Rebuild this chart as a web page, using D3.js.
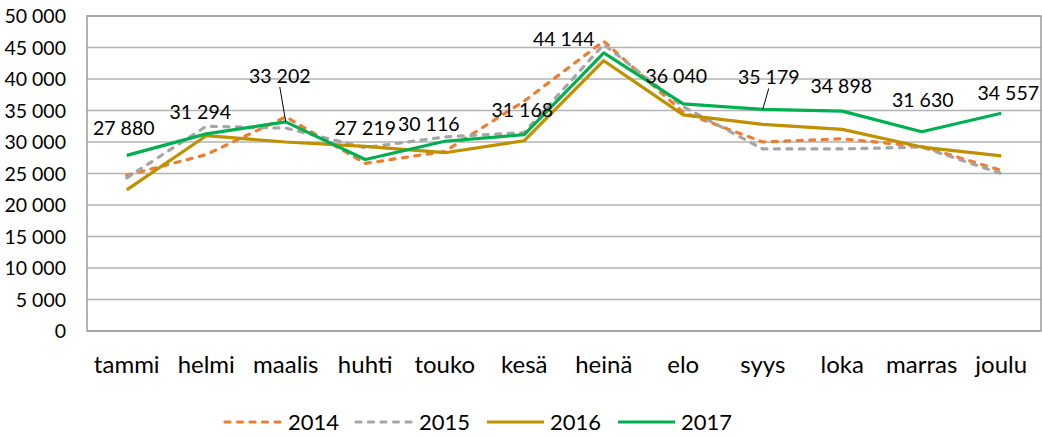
<!DOCTYPE html>
<html>
<head>
<meta charset="utf-8">
<script src="https://cdn.jsdelivr.net/npm/d3@7"></script>
<style>
  body { margin: 0; background: #fff; }
  svg text { font-family: "Lato", "Liberation Sans", Arial, sans-serif; font-weight: 400; fill: #000; }
</style>
</head>
<body>
<div id="chart"></div>
<script>
  const months = ['tammi', 'helmi', 'maalis', 'huhti', 'touko', 'kesä', 'heinä', 'elo', 'syys', 'loka', 'marras', 'joulu'];
  const years = ['2014', '2015', '2016', '2017'];
  const values2014 = [24700, 28000, 34000, 26600, 28500, 36500, 46000, 34700, 30000, 30500, 29300, 25500];
  const values2015 = [24300, 32500, 32200, 29100, 30800, 31500, 45500, 35600, 28900, 28900, 29200, 25000];
  const values2016 = [22400, 31000, 30000, 29300, 28300, 30200, 42900, 34300, 32800, 32000, 29200, 27800];
  const values2017 = [27880, 31294, 33202, 27219, 30116, 31168, 44144, 36040, 35179, 34898, 31630, 34557];
  const yTicks = [0, 5000, 10000, 15000, 20000, 25000, 30000, 35000, 40000, 45000, 50000];

  // where each 2017 label sits relative to its point (layout only)
  const labelOffsets = [[-3, -27], [-6, -22], [-6, -46], [0, -31], [-16, -17], [-2, -24], [-40, -14], [-7, -28], [6, -32], [-1, -25], [1, -32], [7, -20]];
  const leaderLines = { 2: true, 8: true };

  const series = [
    { name: years[0], values: values2014, color: '#ED7D31', dash: '5,7.5' },
    { name: years[1], values: values2015, color: '#A5A5A5', dash: '5,7.5' },
    { name: years[2], values: values2016, color: '#BF9000', dash: null },
    { name: years[3], values: values2017, color: '#00B050', dash: null }
  ];

  const W = 1042, H = 436;
  const plot = { left: 87, right: 1041, top: 16, bottom: 331 };

  const fmt = d3.formatLocale({ decimal: ',', thousands: '\u00a0', grouping: [3], currency: ['', ''] }).format(',d');

  const svg = d3.select('#chart').append('svg')
    .attr('width', W)
    .attr('height', H);

  const x = d3.scaleBand()
    .domain(months)
    .range([plot.left, plot.right]);

  const y = d3.scaleLinear()
    .domain([0, 50000])
    .range([plot.bottom, plot.top]);

  // Gridlines
  svg.append('g')
    .selectAll('line')
    .data(yTicks)
    .enter()
    .append('line')
    .attr('x1', plot.left)
    .attr('x2', plot.right)
    .attr('y1', d => y(d))
    .attr('y2', d => y(d))
    .attr('stroke', '#b3b3b3')
    .attr('stroke-width', 1.3);

  // Plot border
  svg.append('rect')
    .attr('x', plot.left)
    .attr('y', plot.top)
    .attr('width', plot.right - plot.left)
    .attr('height', plot.bottom - plot.top)
    .attr('fill', 'none')
    .attr('stroke', '#9a9a9a')
    .attr('stroke-width', 1.5);

  // Y axis labels
  const yAxis = svg.append('g')
    .attr('transform', `translate(${plot.left},0)`)
    .call(d3.axisLeft(y).tickValues(yTicks).tickFormat(fmt).tickSize(0).tickPadding(21));
  yAxis.select('.domain').remove();
  yAxis.attr('font-size', null).attr('font-family', null);
  yAxis.selectAll('text')
    .style('font-size', '19.5px')
    .attr('dy', '0.35em');

  // X axis labels
  const xAxis = svg.append('g')
    .attr('transform', `translate(0,${plot.bottom})`)
    .call(d3.axisBottom(x).tickSize(0).tickPadding(25));
  xAxis.select('.domain').remove();
  xAxis.attr('font-size', null).attr('font-family', null);
  xAxis.selectAll('text')
    .style('font-size', '24px');

  // Lines
  const line = d3.line()
    .x((d, i) => x(months[i]) + x.bandwidth() / 2)
    .y(d => y(d));

  series.forEach(s => {
    svg.append('path')
      .datum(s.values)
      .attr('fill', 'none')
      .attr('stroke', s.color)
      .attr('stroke-width', 3.2)
      .attr('stroke-linejoin', 'round')
      .attr('stroke-linecap', s.dash ? 'round' : 'butt')
      .attr('stroke-dasharray', s.dash)
      .attr('d', line);
  });

  // Data labels for 2017
  const labels = svg.append('g');
  values2017.forEach((v, i) => {
    const px = x(months[i]) + x.bandwidth() / 2;
    const py = y(v);
    const [dx, dy] = labelOffsets[i];
    labels.append('text')
      .attr('x', px + dx)
      .attr('y', py + dy)
      .attr('text-anchor', 'middle')
      .attr('dy', '0.35em')
      .style('font-size', '19.5px')
      .text(fmt(v));
    if (leaderLines[i]) {
      labels.append('line')
        .attr('x1', px + dx)
        .attr('y1', py + dy + 11)
        .attr('x2', px)
        .attr('y2', py)
        .attr('stroke', '#000')
        .attr('stroke-width', 1);
    }
  });

  // Legend
  const legend = svg.append('g')
    .attr('transform', 'translate(225,422)');
  series.forEach((s, i) => {
    const g = legend.append('g').attr('transform', `translate(${i * 131},0)`);
    g.append('line')
      .attr('x1', 0)
      .attr('x2', 57)
      .attr('stroke', s.color)
      .attr('stroke-width', 3.2)
      .attr('stroke-linecap', s.dash ? 'round' : 'butt')
      .attr('stroke-dasharray', s.dash);
    g.append('text')
      .attr('x', 63)
      .attr('dy', '0.35em')
      .style('font-size', '22px')
      .text(s.name);
  });
</script>
</body>
</html>
